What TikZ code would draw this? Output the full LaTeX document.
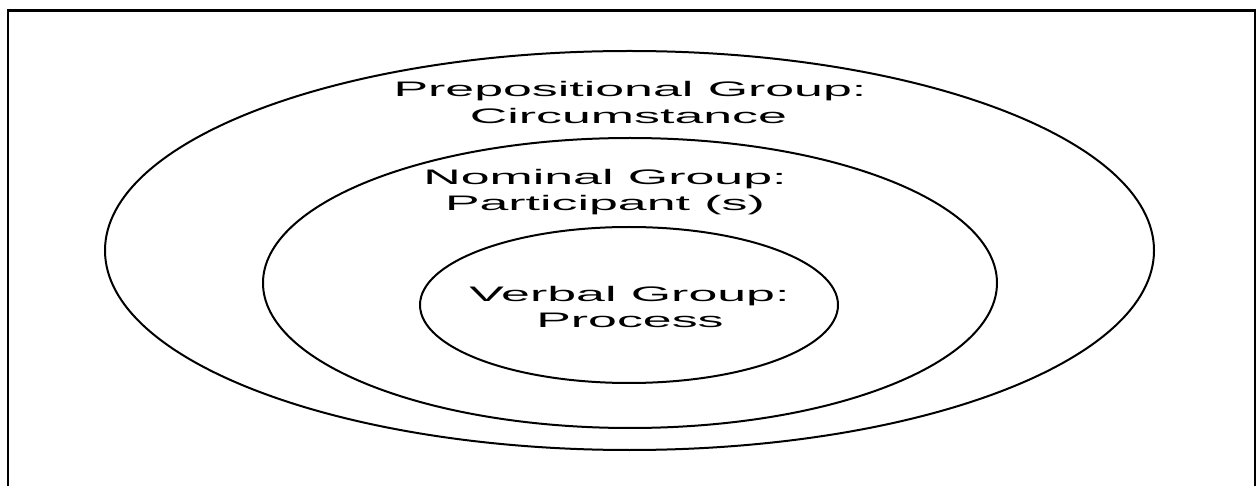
\documentclass[tikz,border=0pt]{standalone}
\usepackage{fontspec}
\setmainfont{Liberation Sans}
\usepackage{graphicx}
\usetikzlibrary{shapes.geometric}
% wide, letter-stretched lettering used for every label
\newcommand{\widetext}[1]{\scalebox{2.47}[1]{#1}}
\tikzset{
  ring/.style={draw=black, line width=2pt, ellipse, inner sep=0pt, fill=none},
  label/.style={font=\fontsize{21}{27}\selectfont, anchor=base, inner sep=0pt, text=black},
}
\begin{document}
\begin{tikzpicture}[x=1pt, y=-1pt]
  \useasboundingbox (0,0) rectangle (1259,486);
  \fill[white] (0,0) rectangle (1259,486);
  % frame, open at the lower edge of the page
  \draw[line width=2.6pt] (8,500) -- (8,10.5) -- (1255,10.5) -- (1255,500);

  % nested groups
  \node[ring, minimum width=1049pt, minimum height=399pt] (outer) at (629.5,250.5) {};
  \node[ring, minimum width=734pt, minimum height=290pt] (middle) at (630,283) {};
  \node[ring, minimum width=418pt, minimum height=156pt] (inner) at (629,305) {};

  % labels
  \node[label] (prepA) at (630,97) {\widetext{Prepositional Group:}};
  \node[label] (prepB) at (628.5,124) {\widetext{Circumstance}};
  \node[label] (nomA) at (605,185) {\widetext{Nominal Group:}};
  \node[label] (nomB) at (605,211) {\widetext{Participant (s)}};
  \node[label] (verbA) at (629.5,302) {\widetext{Verbal Group:}};
  \node[label] (verbB) at (630,328) {\widetext{Process}};
\end{tikzpicture}
\end{document}
